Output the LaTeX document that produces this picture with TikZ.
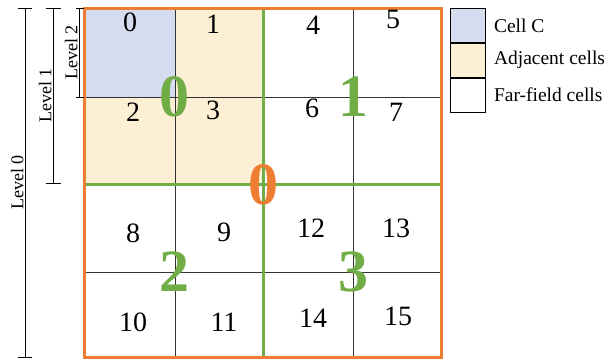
\documentclass[tikz,border=0pt]{standalone}
\usepackage{fontspec}
\setmainfont{Liberation Serif}
\definecolor{cellblue}{RGB}{214,220,240}
\definecolor{celladj}{RGB}{253,239,212}
\definecolor{quadgreen}{RGB}{112,173,71}
\definecolor{rootorange}{RGB}{237,125,49}
\begin{document}
\begin{tikzpicture}[x=1pt,y=-1pt,
    cellnum/.style={font=\fontsize{28}{30}\selectfont},
    bignum/.style={font=\fontsize{60}{64}\selectfont\bfseries, text=quadgreen, inner sep=0pt},
    levelbar/.style={black, line width=0.8pt},
    levellabel/.style={rotate=90, anchor=south, font=\fontsize{18}{20}\selectfont, inner sep=1pt},
    legendbox/.style={draw=black, line width=0.8pt, minimum width=35pt, minimum height=34pt, inner sep=0pt},
    legendtext/.style={anchor=west, inner sep=1pt, font=\fontsize{19.5}{22}\selectfont}]
    \useasboundingbox (0,0) rectangle (610,362);
    % cell fills
    \fill[cellblue] (84,8) rectangle (175,97);
    \fill[celladj] (175,8) rectangle (263,97);
    \fill[celladj] (84,97) rectangle (263,184);
    % level 2 grid
    \draw[black!80, line width=0.8pt] (175,8) -- (175,357);
    \draw[black!80, line width=0.8pt] (353,8) -- (353,357);
    \draw[black!80, line width=0.8pt] (84,97) -- (441,97);
    \draw[black!80, line width=0.8pt] (84,272) -- (441,272);
    % level 1 grid
    \draw[quadgreen, line width=3pt] (263,8) -- (263,357);
    \draw[quadgreen, line width=3pt] (84,184) -- (441,184);
    % level 0 box
    \draw[rootorange, line width=3pt] (84,8) rectangle (441,357);
    % cell numbers
    \node[cellnum] (c0) at (130,22) {0};
    \node[cellnum] (c1) at (213,24) {1};
    \node[cellnum] (c4) at (313,25) {4};
    \node[cellnum] (c5) at (393,19) {5};
    \node[cellnum] (c2) at (133,112) {2};
    \node[cellnum] (c3) at (213,110) {3};
    \node[cellnum] (c6) at (312,108) {6};
    \node[cellnum] (c7) at (396,112) {7};
    \node[cellnum] (c8) at (133,233) {8};
    \node[cellnum] (c9) at (224,232) {9};
    \node[cellnum] (c12) at (311,228) {12};
    \node[cellnum] (c13) at (396,228) {13};
    \node[cellnum] (c10) at (133,322) {10};
    \node[cellnum] (c11) at (224,322) {11};
    \node[cellnum] (c14) at (313,318) {14};
    \node[cellnum] (c15) at (398,316) {15};
    % quadrant numbers
    \node[bignum] (q0) at (174,97) {0};
    \node[bignum] (q1) at (353,97) {1};
    \node[bignum] (q2) at (174,272) {2};
    \node[bignum] (q3) at (353,272) {3};
    \node[bignum, text=rootorange] (root) at (263,185) {0};
    % level bars
    \draw[levelbar] (79,8) -- (79,97) node[midway, levellabel] (lv2) {Level 2};
    \draw[levelbar] (76,8) -- (84,8) (76,97) -- (84,97);
    \draw[levelbar] (53,8) -- (53,183) node[midway, levellabel] (lv1) {Level 1};
    \draw[levelbar] (46,8) -- (61,8) (46,183) -- (61,183);
    \draw[levelbar] (25,8) -- (25,357) node[midway, levellabel] (lv0) {Level 0};
    \draw[levelbar] (18,8) -- (32,8) (18,357) -- (32,357);
    % legend
    \node[legendbox, fill=cellblue, anchor=north west] (lgc) at (450,8) {};
    \node[legendbox, fill=celladj, anchor=north] (lga) at (lgc.south) {};
    \node[legendbox, fill=white, anchor=north] (lgf) at (lga.south) {};
    \node[legendtext] (tc) at ([xshift=7pt]lgc.east) {Cell C};
    \node[legendtext] (ta) at ([xshift=7pt]lga.east) {Adjacent cells};
    \node[legendtext] (tf) at ([xshift=7pt]lgf.east) {Far-field cells};
\end{tikzpicture}
\end{document}
